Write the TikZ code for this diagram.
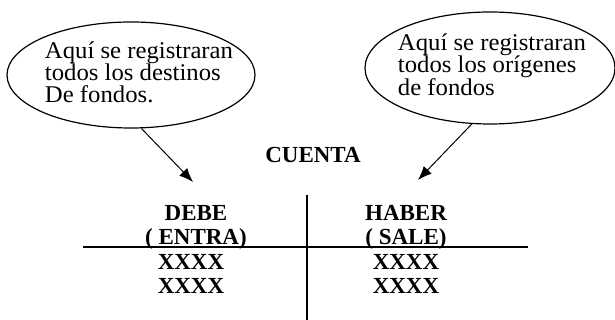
\documentclass[tikz,border=0pt]{standalone}
\usepackage{fontspec}
\setmainfont{Liberation Serif}
\newfontfamily\bubblefont[FakeStretch=1.03]{Liberation Serif}
\usetikzlibrary{arrows.meta}
\usetikzlibrary{positioning}
\usetikzlibrary{shapes.geometric}
\tikzset{
    bubble/.style={
           ellipse,
           draw=black, line width=1.2pt,
           inner sep=0pt,
           },
    bubbletext/.style={
           align=left,
           inner sep=0pt,
           font=\bubblefont\fontsize{24}{22}\selectfont,
           },
    heading/.style={
           %rectangle,
           %draw=black, very thick,
           inner sep=0pt,
           text centered,
           font=\bfseries\fontsize{23}{24}\selectfont,
           },
    tline/.style={
           line width=1.2pt,
           },
}

\begin{document}
\begin{tikzpicture}[x=1pt,y=1pt]
	\useasboundingbox (0,0) rectangle (615,320);
	\def\arraystretch{1}

	\node[bubble, minimum width=248pt, minimum height=106pt,
		label={[bubbletext, xshift=8pt, yshift=3pt]center:Aquí se registraran\\todos los destinos\\De fondos.}]
		(destinos) at (131,245) {};
	\node[bubble, minimum width=250pt, minimum height=112pt,
		label={[bubbletext, xshift=2pt, yshift=3pt]center:Aquí se registraran\\todos los orígenes\\de fondos}]
		(origenes) at (490,252) {};

	\node[heading] (cuenta) at (313,165) {CUENTA};

	\node[heading] (debe) at (196,92.5) {\begin{tabular}{c}
										DEBE\\ ( ENTRA)
									\end{tabular}};
	\node[heading, below=1pt of debe, xshift=-5pt] (debeval) {\begin{tabular}{c}
										XXXX\\ XXXX
									\end{tabular}};
	\node[heading] (haber) at (406,92.5) {\begin{tabular}{c}
										HABER\\ ( SALE)
									\end{tabular}};
	\node[heading, below=1pt of haber] (haberval) {\begin{tabular}{c}
										XXXX\\ XXXX
									\end{tabular}};

	%T account
	\coordinate (ttop) at (307,125);
	\coordinate (tbot) at (307,0);
	\coordinate (tleft) at (83,73);
	\coordinate (tright) at (528,73);
	\draw[tline] (ttop) -- (tbot);
	\draw[tline] (tleft) -- (tright);

	%EDGES
	\coordinate (dtip) at (193,138);
	\coordinate (htip) at (418,140);
	\path[-{Latex[length=14pt,width=11pt]},line width=1pt]	(destinos.-79) edge (dtip)
					(origenes.-108) edge (htip);

\end{tikzpicture}
\end{document}
